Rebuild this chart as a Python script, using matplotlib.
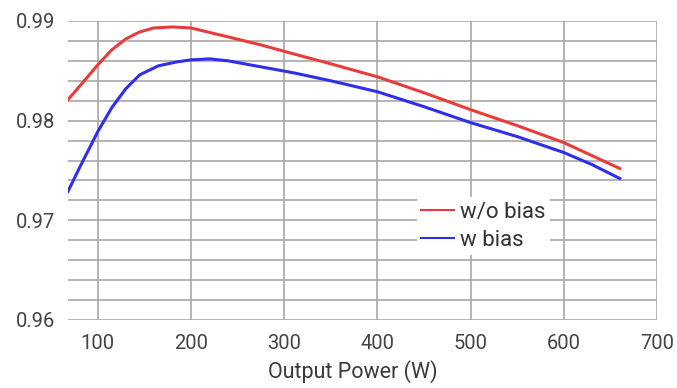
import matplotlib.pyplot as plt
import numpy as np

plt.rcParams['font.family'] = ['Roboto', 'DejaVu Sans']

# Values
power_wo = [68, 80, 100, 115, 130, 145, 160, 180, 200, 240, 275, 310, 350, 400, 450, 500,
            550, 600, 630, 660]
eff_wo = [0.9821, 0.9834, 0.9856, 0.9871, 0.9882, 0.9889, 0.9893, 0.9894, 0.9893, 0.9884,
          0.9876, 0.9867, 0.9857, 0.9844, 0.9828, 0.9811, 0.9795, 0.9778, 0.9765, 0.9752]

power_w = [68, 80, 100, 115, 130, 145, 165, 185, 200, 220, 240, 275, 310, 350, 400, 450,
           500, 550, 600, 630, 660]
eff_w = [0.9729, 0.9752, 0.9789, 0.9813, 0.9832, 0.9846, 0.9855, 0.9859, 0.9861, 0.9862,
         0.9860, 0.9854, 0.9848, 0.9840, 0.9829, 0.9814, 0.9798, 0.9784, 0.9768, 0.9756, 0.9742]

x_ticks = [100, 200, 300, 400, 500, 600, 700]
y_ticks = [0.96, 0.97, 0.98, 0.99]

fig = plt.figure(figsize=(6.77, 3.88), dpi=100)
ax = fig.add_axes([0.1004, 0.1753, 0.8701, 0.7706])

ax.plot(power_wo, eff_wo, color='#ea3b3b', lw=2.2, label='w/o bias', zorder=3,
        solid_joinstyle='round')
ax.plot(power_w, eff_w, color='#2f2fe8', lw=2.2, label='w bias', zorder=3,
        solid_joinstyle='round')

ax.set_xlim(68, 700)
ax.set_ylim(0.96, 0.99)
ax.set_xticks(x_ticks)
ax.set_yticks(y_ticks)
ax.set_yticklabels([f'{v:.2f}' for v in y_ticks])
ax.set_yticks(np.arange(0.962, 0.99, 0.002), minor=True)
ax.tick_params(which='both', length=0, labelsize=14.5, colors='#444444')
ax.tick_params(axis='y', pad=9)
ax.tick_params(axis='x', pad=10)
ax.grid(True, which='major', axis='both', color='#a8a8a8', lw=1.2)
ax.grid(True, which='minor', axis='y', color='#a8a8a8', lw=1.2)
for s in ax.spines.values():
    s.set_visible(False)

ax.set_xlabel('Output Power (W)', fontsize=15.5, color='#3a3a3a', labelpad=6)
ax.xaxis.set_label_coords(0.484, -0.135)

leg = ax.legend(loc='upper left', bbox_to_anchor=(0.5925, 0.41), frameon=True,
                fontsize=16, handlelength=1.45, handletextpad=0.3, labelspacing=0.3,
                borderpad=0.2, borderaxespad=0, framealpha=1)
leg.get_frame().set_edgecolor('none')
for line in leg.get_lines():
    line.set_linewidth(1.5)
for t in leg.get_texts():
    t.set_color('#333333')

fig.savefig('out.png', dpi=100)
